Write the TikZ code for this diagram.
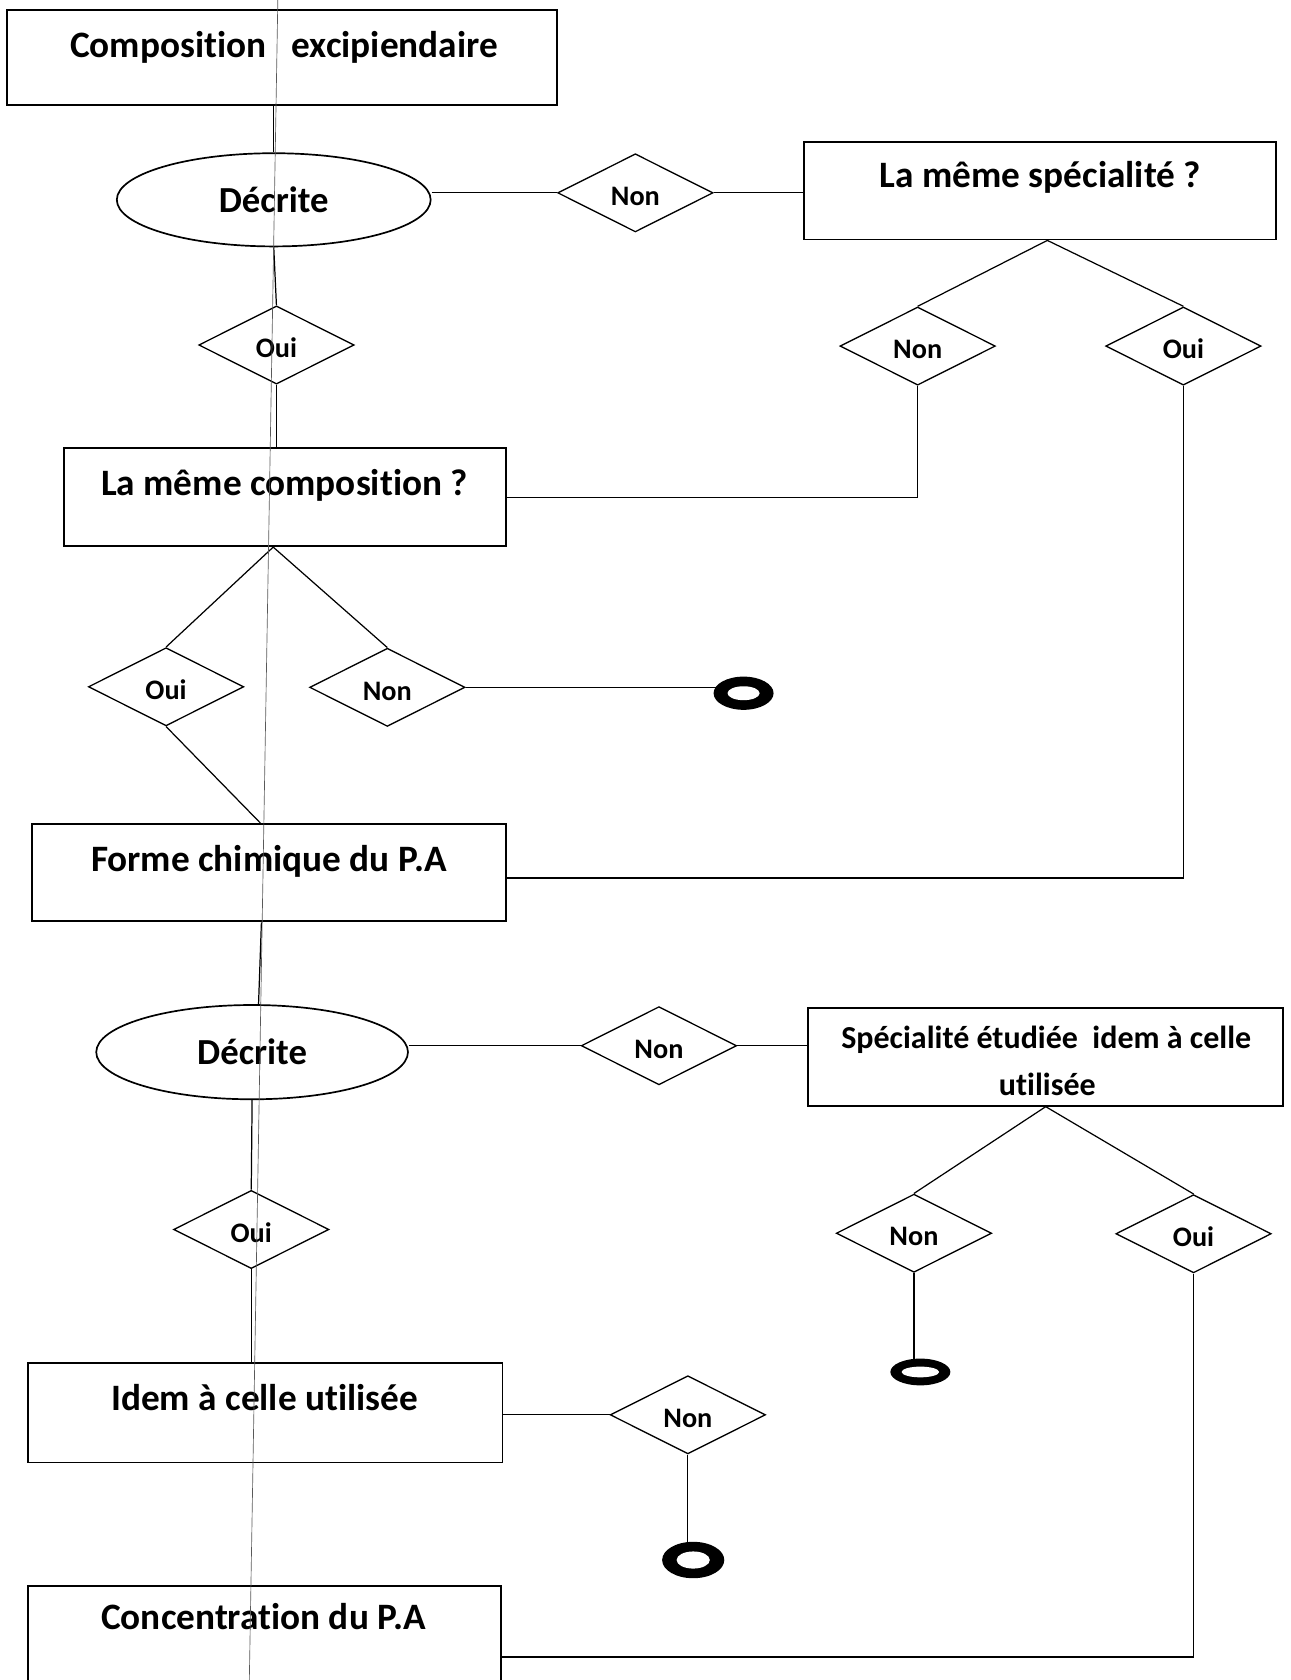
\documentclass[tikz,border=0pt]{standalone}
\usepackage{fontspec}
\setmainfont[RawFeature={-liga}]{Carlito}
\usetikzlibrary{shapes.geometric,calc}

\tikzset{
  box/.style={draw, rectangle, line width=1pt, inner sep=0pt},
  boxtext/.style={anchor=base, inner sep=0pt, font=\bfseries\fontsize{19.8}{24}\selectfont},
  smalltext/.style={anchor=base, inner sep=0pt, font=\bfseries\fontsize{17}{20}\selectfont},
  oval/.style={draw, ellipse, line width=0.9pt, inner sep=0pt, font=\bfseries\fontsize{19.5}{23}\selectfont},
  answer/.style={draw, diamond, line width=0.7pt, inner sep=0pt, minimum width=2.9cm,
    minimum height=1.46cm, text height=13.5pt, text depth=0pt, font=\bfseries\fontsize{15}{18}\selectfont},
  % black ring: filled ellipse with a white hole
  endring/.style n args={4}{ellipse, fill=black, inner sep=0pt, outer sep=0pt,
    minimum width=#1, minimum height=#2,
    path picture={\fill[white] (path picture bounding box.center) ellipse [x radius=#3, y radius=#4];}},
  link/.style={line width=0.65pt},
  guide/.style={line width=0.35pt, black!65},
}

\begin{document}
\begin{tikzpicture}[x=0.02cm, y=-0.02cm]
\useasboundingbox (0,0) rectangle (1204,1568);

% first level: excipient composition
\node[box, minimum width=10.26cm, minimum height=1.78cm] (b1) at (263,53.5) {};
\node[boxtext] (t1) at (265,54) {Composition~~~excipiendaire};
\node[oval, minimum width=5.86cm, minimum height=1.74cm] (e1) at (255.5,186.5) {Décrite};
\node[answer] (d1) at (593,180) {Non};
\node[box, minimum width=8.82cm, minimum height=1.82cm] (b2) at (970.5,178) {};
\node[boxtext] (t2) at (971,175) {La même spécialité ?};
\node[answer] (d2) at (856.5,323) {Non};
\node[answer] (d3) at (1104.5,323) {Oui};
\node[answer] (d4) at (258,322) {Oui};

% same composition
\node[box, minimum width=8.26cm, minimum height=1.83cm] (b3) at (266,464) {};
\node[boxtext] (t3) at (265.5,462) {La même composition ?};
\node[answer] (d5) at (155,641) {Oui};
\node[answer] (d6) at (361.5,641.5) {Non};
\node[endring={1.12cm}{0.62cm}{0.3cm}{0.13cm}] (r1) at (694,647) {};

% chemical form of the active ingredient
\node[box, minimum width=8.86cm, minimum height=1.82cm] (b4) at (251,814.5) {};
\node[boxtext] (t4) at (251,813.5) {Forme chimique du P.A};
\node[oval, minimum width=5.82cm, minimum height=1.76cm] (e2) at (235.3,982) {Décrite};
\node[answer] (d7) at (615,976) {Non};
\node[box, minimum width=8.87cm, minimum height=1.82cm] (b5) at (976,986.5) {};
\node[smalltext] (t5) at (976.5,978.5) {Spécialité étudiée~~idem à celle};
\node[smalltext] (t5b) at (977.5,1022) {utilisée};
\node[answer] (d9) at (853,1151) {Non};
\node[answer] (d10) at (1114,1151.5) {Oui};
\node[endring={1.12cm}{0.5cm}{0.35cm}{0.1cm}] (r2) at (859,1280.5) {};
\node[answer] (d8) at (234.5,1147.5) {Oui};

% same as the one used
\node[box, minimum width=8.86cm, minimum height=1.86cm] (b6) at (247.5,1318.5) {};
\node[boxtext] (t6) at (247,1316) {Idem à celle utilisée};
\node[answer] (d11) at (642,1320.5) {Non};
\node[endring={1.16cm}{0.68cm}{0.31cm}{0.16cm}] (r3) at (647,1456) {};

% concentration
\node[box, minimum width=8.83cm, minimum height=1.86cm] (b7) at (246.8,1526.5) {};
\node[boxtext] (t7) at (246,1521) {Concentration du P.A};

% connectors
\draw[link] (e1.north |- b1.south) -- (e1.north);
\draw[link] (e1.south) -- (d4.north);
\draw[link] (d4.south) -- (d4.south |- b3.north);
\draw[link] (e1.east |- d1.west) -- (d1.west);
\draw[link] (d1.east) -- (d1.east -| b2.west);
\coordinate (b2a) at ($(b2.south)+(7,0)$);
\draw[link] (d2.north) -- (b2a) -- (d3.north);
\draw[link] (d2.south) |- (b3.east);
\draw[link] (d3.south) |- ($(b4.east)+(0,5)$);

\coordinate (b3a) at ($(b3.south)+(-11,0)$);
\draw[link] (d5.north) -- (b3a) -- (d6.north);
\draw[link] (d6.east) -- ($(d6.east -| r1.west)+(4,0)$);
\draw[link] (d5.south) -- ($(b4.north)+(-8,0)$);

\draw[link] ($(b4.south)+(-7,0)$) -- ($(e2.north)+(6,0)$);
\draw[link] (e2.east |- d7.west) -- (d7.west);
\draw[link] (d7.east) -- (d7.east -| b5.west);
\draw[link] (d9.north) -- (b5.south) -- (d10.north);
\draw[link] (d9.south) -- (d9.south |- r2.north);
\draw[link] (d10.south) |- ($(b7.east)+(0,20)$);
\draw[link] (e2.south) -- (d8.north);
\draw[link] (d8.south) -- (d8.south |- b6.north);
\draw[link] (b6.east |- d11.west) -- (d11.west);
\draw[link] (d11.south) -- (d11.south |- r3.north);

% thin vertical rule across the page
\coordinate (g1) at (259.3,0);
\coordinate (g2) at (232.7,1568);
\draw[guide] (g1) -- (g2);
\end{tikzpicture}
\end{document}
